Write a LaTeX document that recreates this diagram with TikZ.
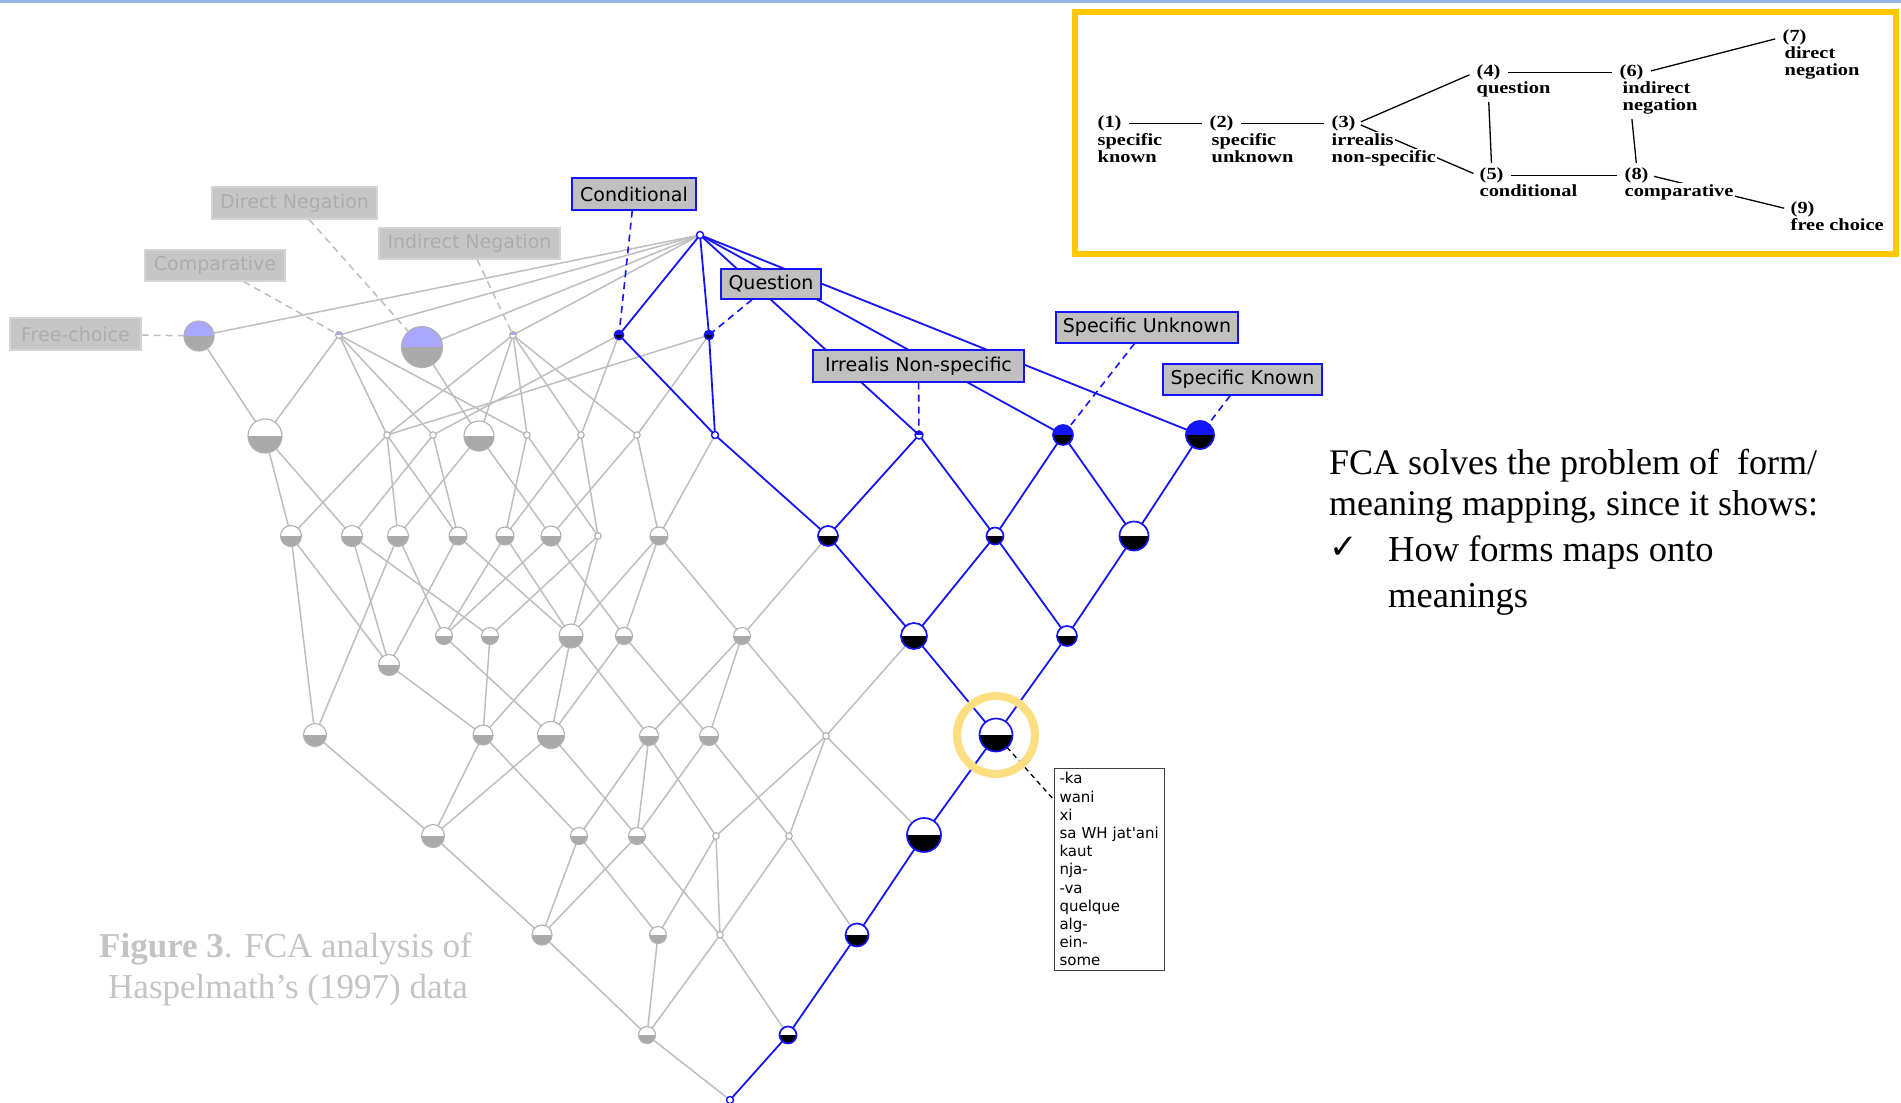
\documentclass[tikz,border=0pt]{standalone}
\usepackage{fontspec}
\usepackage{graphicx}
\setmainfont{Liberation Serif}
\newfontfamily\labfont{DejaVu Sans}
\usetikzlibrary{backgrounds}

\definecolor{gline}{RGB}{190,190,190}
\definecolor{gout}{RGB}{176,176,176}
\definecolor{gfill}{RGB}{170,170,170}
\definecolor{lav}{RGB}{168,168,255}
\definecolor{bl}{RGB}{20,20,245}
\definecolor{labgray}{RGB}{192,192,192}
\definecolor{fadefill}{RGB}{198,198,198}
\definecolor{fadeline}{RGB}{212,212,212}
\definecolor{fadetext}{RGB}{172,172,172}
\definecolor{ringc}{RGB}{253,222,128}
\definecolor{gold}{RGB}{255,200,0}
\definecolor{topline}{RGB}{150,180,230}
\definecolor{capgray}{RGB}{196,196,196}

\tikzset{
  lowfill/.style={path picture={\fill[#1] (path picture bounding box.west) rectangle (path picture bounding box.south east);}},
  gh/.style={circle, inner sep=0pt, outer sep=0pt, minimum size=#1, line width=1.1pt, draw=gout, fill=white, lowfill=gfill},
  lh/.style={circle, inner sep=0pt, outer sep=0pt, minimum size=#1, line width=1.1pt, draw=gout, fill=lav, lowfill=gfill},
  gt/.style={circle, inner sep=0pt, outer sep=0pt, minimum size=6.5pt, line width=1.1pt, draw=gout, fill=white},
  lt/.style={circle, inner sep=0pt, outer sep=0pt, minimum size=7pt, line width=1.1pt, draw=gout, fill=lav, lowfill=white},
  bh/.style={circle, inner sep=0pt, outer sep=0pt, minimum size=#1, line width=1.7pt, draw=bl, fill=white, lowfill=black},
  bb/.style={circle, inner sep=0pt, outer sep=0pt, minimum size=#1, line width=1.7pt, draw=bl, fill=bl, lowfill=black},
  bt/.style={circle, inner sep=0pt, outer sep=0pt, minimum size=7pt, line width=1.4pt, draw=bl, fill=white},
  bht/.style={circle, inner sep=0pt, outer sep=0pt, minimum size=8pt, line width=1.4pt, draw=bl, fill=bl, lowfill=white},
  gedge/.style={draw=gline, line width=1.5pt},
  bedge/.style={draw=bl, line width=1.8pt},
  gdash/.style={draw=gline, line width=1.5pt, dash pattern=on 7pt off 5pt},
  bdash/.style={draw=bl, line width=1.6pt, dash pattern=on 7pt off 5pt},
  actlab/.style={rectangle, draw=bl, line width=1.3pt, fill=labgray, text=black, inner sep=0pt,
    font=\labfont\fontsize{19}{22}\selectfont},
  fadelab/.style={rectangle, draw=fadeline, line width=1.3pt, fill=fadefill, text=fadetext, inner sep=0pt,
    font=\labfont\fontsize{19}{22}\selectfont},
  mapt/.style={anchor=base west, inner sep=1.5pt, font=\bfseries\fontsize{17}{17}\selectfont},
  mapline/.style={draw=black, line width=1.3pt},
  bodytxt/.style={anchor=base west, inner sep=0pt, font=\fontsize{36}{42}\selectfont},
}

\begin{document}
\begin{tikzpicture}[x=1pt,y=-1pt]
\useasboundingbox (0,0) rectangle (1901,1103);
\begin{scope}[on background layer]
  \fill[white] (0,0) rectangle (1901,1103);
\end{scope}
\fill[topline] (0,0) rectangle (1901,2.5);

% ---------------- concept lattice: nodes ----------------
\node[bt] (T) at (700,235) {};
% attribute concepts, first row
\node[lh=30pt] (FC) at (199,336) {};
\node[lt] (Cp) at (339,335) {};
\node[lh=41pt] (DN) at (422,347) {};
\node[lt] (IN) at (513,335) {};
\node[bb=9pt] (Cd) at (619,335) {};
\node[bb=9pt] (Qu) at (709,335) {};
% second row
\node[gh=34pt] (B1) at (265,436) {};
\node[gt] (B2) at (387,435) {};
\node[gt] (B3) at (433,435) {};
\node[gh=30pt] (B4) at (479,436) {};
\node[gt] (B5) at (527,435) {};
\node[gt] (B6) at (581,435) {};
\node[gt] (B7) at (637,435) {};
\node[bt] (B8) at (715,435) {};
\node[bht] (Ir) at (919,435) {};
\node[bb=20pt] (SU) at (1063,435) {};
\node[bb=28pt] (SK) at (1200,435) {};
% third row
\node[gh=21pt] (C1) at (291,536) {};
\node[gh=21pt] (C2) at (352,536) {};
\node[gh=21pt] (C3) at (398,536) {};
\node[gh=18pt] (C4) at (458,536) {};
\node[gh=18pt] (C5) at (505,536) {};
\node[gh=20pt] (C6) at (551,536) {};
\node[gt] (C7) at (598,536) {};
\node[gh=18pt] (C8) at (659,536) {};
\node[bh=20pt] (C9) at (828,536) {};
\node[bh=17pt] (C10) at (995,536) {};
\node[bh=29pt] (C11) at (1134,536) {};
% fourth row
\node[gh=21pt] (D0) at (389,665) {};
\node[gh=17pt] (D1) at (444,636) {};
\node[gh=17pt] (D2) at (490,636) {};
\node[gh=24pt] (D3) at (571,636) {};
\node[gh=17pt] (D4) at (624,636) {};
\node[gh=17pt] (D5) at (742,636) {};
\node[bh=26pt] (D6) at (914,636) {};
\node[bh=20pt] (D7) at (1067,636) {};
% fifth row
\node[gh=23pt] (E1) at (315,735) {};
\node[gh=20pt] (E2) at (483,735) {};
\node[gh=27pt] (E3) at (551,735) {};
\node[gh=19pt] (E4) at (649,736) {};
\node[gh=19pt] (E5) at (709,736) {};
\node[gt] (E6) at (826,736) {};
\node[bh=33pt] (E7) at (996,735) {};
% sixth row
\node[gh=23pt] (F1) at (433,836) {};
\node[gh=17pt] (F2) at (579,836) {};
\node[gh=17pt] (F3) at (637,836) {};
\node[gt] (F4) at (716,836) {};
\node[gt] (F5) at (789,836) {};
\node[bh=34pt] (F6) at (924,835) {};
% seventh row
\node[gh=20pt] (G1) at (542,935) {};
\node[gh=17pt] (G2) at (658,935) {};
\node[gt] (G3) at (720,935) {};
\node[bh=23pt] (G4) at (857,935) {};
% eighth row and bottom
\node[gh=17pt] (H1) at (647,1035) {};
\node[bh=17pt] (H2) at (788,1035) {};
\node[bt] (Bot) at (730,1100) {};

% ---------------- lattice edges ----------------
\begin{scope}[on background layer]
  \foreach \a/\b in {T/FC,T/Cp,T/DN,T/IN,
      FC/B1,Cp/B1,Cp/B2,Cp/B3,Cp/B5,DN/B4,IN/B2,IN/B4,IN/B5,IN/B6,IN/B7,Cd/B3,Cd/B6,Qu/B2,Qu/B7,
      B1/C1,B1/C2,B2/C1,B2/C3,B2/C4,B3/C2,B3/C4,B4/C3,B4/C6,B5/C5,B5/C7,B6/C5,B6/C7,B7/C6,B7/C8,B8/C8,
      C1/D0,C1/E1,C2/D0,C2/D2,C3/D1,C3/E1,C4/D0,C4/D3,C5/D1,C5/D3,C6/D1,C6/D4,C7/D2,C7/D3,
      C8/D3,C8/D4,C8/D5,C9/D5,
      D0/E2,D1/E3,D2/E2,D3/E2,D3/E3,D3/E4,D4/E3,D4/E5,D5/E4,D5/E5,D5/E6,D6/E6,
      E1/F1,E2/F1,E2/F2,E3/F1,E3/F3,E4/F2,E4/F3,E4/F4,E5/F3,E5/F5,E6/F4,E6/F5,E6/F6,
      F1/G1,F2/G1,F2/G2,F3/G1,F3/G3,F4/G2,F4/G3,F5/G3,F5/G4,
      G1/H1,G2/H1,G3/H1,G3/H2,H1/Bot}
    \draw[gedge] (\a) -- (\b);
  \foreach \a/\b in {T/Cd,T/Qu,T/Ir,T/SU,T/SK,Cd/B8,Qu/B8,B8/C9,Ir/C9,Ir/C10,SU/C10,SU/C11,SK/C11,
      C9/D6,C10/D6,C10/D7,C11/D7,D6/E7,D7/E7,E7/F6,F6/G4,G4/H2,H2/Bot}
    \draw[bedge] (\a) -- (\b);
\end{scope}

% ---------------- attribute labels ----------------
\node[fadelab, minimum width=131pt, minimum height=32pt] (lfc) at (75.5,334) {Free-choice};
\node[fadelab, minimum width=140pt, minimum height=31pt] (lcomp) at (215,265.5) {Comparative};
\node[fadelab, minimum width=165pt, minimum height=32pt] (ldn) at (294.5,203) {Direct Negation};
\node[fadelab, minimum width=181pt, minimum height=31pt] (lin) at (469.5,243.5) {Indirect Negation};
\node[actlab, minimum width=124pt, minimum height=32pt] (lcond) at (634,194) {Conditional};
\node[actlab, minimum width=100pt, minimum height=30pt] (lques) at (771,284) {Question};
\node[actlab, minimum width=211pt, minimum height=32pt] (lirr) at (918.5,366) {Irrealis Non-specific};
\node[actlab, minimum width=182pt, minimum height=31pt] (lsu) at (1147,327.5) {Specific Unknown};
\node[actlab, minimum width=159pt, minimum height=31pt] (lsk) at (1242.5,379.5) {Specific Known};

\begin{scope}[on background layer]
  \draw[gdash] (lfc) -- (FC);
  \draw[gdash] (lcomp) -- (Cp);
  \draw[gdash] (ldn) -- (DN);
  \draw[gdash] (lin) -- (IN);
  \draw[bdash] (lcond) -- (Cd);
  \draw[bdash] (lques) -- (Qu);
  \draw[bdash] (lirr) -- (Ir);
  \draw[bdash] (lsu) -- (SU);
  \draw[bdash] (lsk) -- (SK);
\end{scope}

% ---------------- selected concept and its forms ----------------
\node[circle, draw=ringc, line width=8pt, minimum size=78pt, inner sep=0pt] (ring) at (E7) {};
\node[draw=black!75, line width=1pt, fill=white, anchor=north west, text width=100pt, align=left,
      inner xsep=5pt, inner ysep=4pt, font=\labfont\fontsize{15}{18.2}\selectfont] (forms) at (1054,768)
  {-ka\\wani\\xi\\sa WH jat\char39 ani\\kaut\\nja-\\-va\\quelque\\alg-\\ein-\\some};
\coordinate (formtip) at (1054,800);
\begin{scope}[on background layer]
  \draw[black, line width=1.3pt, dash pattern=on 5pt off 4pt] (E7) -- (formtip);
\end{scope}

% ---------------- caption ----------------
\node[bodytxt, font=\fontsize{35}{42}\selectfont, text=capgray] (cap1) at (99,957) {\textbf{Figure 3}. FCA analysis of};
\node[bodytxt, font=\fontsize{35}{42}\selectfont, text=capgray] (cap2) at (108,998.5) {Haspelmath’s (1997) data};

% ---------------- remark text ----------------
\node[bodytxt] (tx1) at (1329,474) {FCA solves the problem of\ \ form/};
\node[bodytxt] (tx2) at (1329,515.5) {meaning mapping, since it shows:};
\node[anchor=base west, inner sep=0pt, font=\labfont\fontsize{34}{36}\selectfont] (tick) at (1329,558) {✓};
\node[bodytxt, font=\fontsize{36.5}{42}\selectfont] (tx3) at (1388,561.7) {How forms maps onto};
\node[bodytxt, font=\fontsize{36.5}{42}\selectfont] (tx4) at (1388,607.5) {meanings};

% ---------------- semantic map inset ----------------
\draw[gold, line width=6pt] (1075,11.5) rectangle (1895.5,254);
\node[mapt] (m1) at (1096,127.5) {\scalebox{1.2}[1]{(1)}};
\node[mapt] (m1a) at (1096,145) {\scalebox{1.2}[1]{specific}};
\node[mapt] (m1b) at (1096,162) {\scalebox{1.2}[1]{known}};
\node[mapt] (m2) at (1208,127.5) {\scalebox{1.2}[1]{(2)}};
\node[mapt] (m2a) at (1210,145) {\scalebox{1.2}[1]{specific}};
\node[mapt] (m2b) at (1210,162) {\scalebox{1.2}[1]{unknown}};
\node[mapt] (m3) at (1330,127.5) {\scalebox{1.2}[1]{(3)}};
\node[mapt, fill=white] (m3a) at (1330,145) {\scalebox{1.2}[1]{irrealis}};
\node[mapt, fill=white] (m3b) at (1330,162) {\scalebox{1.2}[1]{non-specific}};
\node[mapt] (m4) at (1475,76.5) {\scalebox{1.2}[1]{(4)}};
\node[mapt] (m4a) at (1475,93.5) {\scalebox{1.2}[1]{question}};
\node[mapt] (m6) at (1618,76.5) {\scalebox{1.2}[1]{(6)}};
\node[mapt] (m6a) at (1621,93.5) {\scalebox{1.2}[1]{indirect}};
\node[mapt] (m6b) at (1621,110.5) {\scalebox{1.2}[1]{negation}};
\node[mapt] (m7) at (1781,41.5) {\scalebox{1.2}[1]{(7)}};
\node[mapt] (m7a) at (1783,58.5) {\scalebox{1.2}[1]{direct}};
\node[mapt] (m7b) at (1783,75.5) {\scalebox{1.2}[1]{negation}};
\node[mapt] (m5) at (1478,179.5) {\scalebox{1.2}[1]{(5)}};
\node[mapt] (m5a) at (1478,196.5) {\scalebox{1.2}[1]{conditional}};
\node[mapt] (m8) at (1623,179.5) {\scalebox{1.2}[1]{(8)}};
\node[mapt, fill=white] (m8a) at (1623,196.5) {\scalebox{1.2}[1]{comparative}};
\node[mapt] (m9) at (1789,213.5) {\scalebox{1.2}[1]{(9)}};
\node[mapt] (m9a) at (1789,230.5) {\scalebox{1.2}[1]{free choice}};
\begin{scope}[on background layer]
  \draw[mapline, shorten <=6pt, shorten >=6pt] (m1.east) -- (m2.west);
  \draw[mapline, shorten <=6pt, shorten >=6pt] (m2.east) -- (m3.west);
  \draw[mapline, shorten <=4pt, shorten >=6pt] (m3.east) -- (m4.west);
  \draw[mapline, shorten <=4pt, shorten >=5pt] (m3.east) -- (m5.west);
  \draw[mapline, shorten <=6pt, shorten >=6pt] (m4.east) -- (m6.west);
  \draw[mapline, shorten <=6pt, shorten >=6pt] (m6.east) -- (m7.west);
  \draw[mapline, shorten <=3pt, shorten >=3pt] (m4.center |- m4a.south) -- (m5.north);
  \draw[mapline, shorten <=3pt, shorten >=3pt] (m6.center |- m6b.south) -- (m8.north);
  \draw[mapline, shorten <=6pt, shorten >=6pt] (m5.east) -- (m8.west);
  \draw[mapline, shorten <=4pt, shorten >=5pt] (m8.east) -- (m9.west);
\end{scope}
\end{tikzpicture}
\end{document}
